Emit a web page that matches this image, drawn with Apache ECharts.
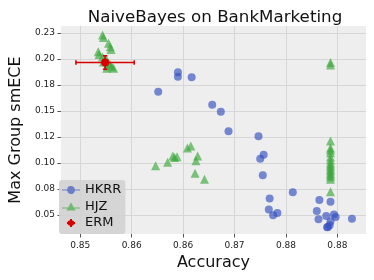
<!DOCTYPE html>
<html>
<head>
<meta charset="utf-8">
<script src="https://cdn.jsdelivr.net/npm/echarts@6/dist/echarts.min.js"></script>
<style>html,body{margin:0;padding:0;background:#fff}#c{width:374px;height:280px}</style>
</head>
<body>
<div id="c"></div>
<script>
// ---- data ----
const xTicks = [0.852, 0.858, 0.864, 0.870, 0.876, 0.882];
const xTickLabels = ['0.85', '0.86', '0.86', '0.87', '0.88', '0.88'];
const yTicks = [0.05, 0.075, 0.10, 0.125, 0.15, 0.175, 0.20, 0.225];
const yTickLabels = ['0.05', '0.08', '0.10', '0.12', '0.15', '0.18', '0.20', '0.23'];

const hkrrX = [0.8634,0.8634,0.8650,0.8611,0.8674,0.8684,0.8693,0.8728,0.8734,0.8730,0.8733,0.8741,0.8768,0.8740,0.8745,0.8750,0.8799,0.8812,0.8796,0.8798,0.8807,0.8816,0.8818,0.8837,0.8808,0.8811,0.8812,0.8809];
const hkrrY = [0.1872,0.1830,0.1824,0.1686,0.1561,0.1493,0.1305,0.1257,0.1080,0.1041,0.0882,0.0659,0.0718,0.0553,0.0498,0.0519,0.0644,0.0628,0.0539,0.0459,0.0490,0.0505,0.0481,0.0464,0.0382,0.0401,0.0438,0.0385];

const hjzX = [0.8546,0.8547,0.8553,0.8555,0.8556,0.8541,0.8542,0.8546,0.8551,0.8553,0.8555,0.8557,0.8559,0.8551,0.8547,
              0.8608,0.8622,0.8628,0.8633,0.8630,0.8645,0.8649,0.8657,0.8655,0.8654,0.8665,
              0.8812,0.8812,0.8812,0.8812,0.8812,0.8812,0.8812,0.8812,0.8812,0.8812,0.8812,0.8812,0.8812,0.8812,0.8812,0.8812,0.8812,0.8812];
const hjzY = [0.2231,0.2207,0.2151,0.2118,0.2091,0.2070,0.2043,0.2019,0.1990,0.1959,0.1942,0.1926,0.1911,0.1911,0.1971,
              0.0974,0.1007,0.1067,0.1061,0.1053,0.1144,0.1164,0.1067,0.1022,0.0901,0.0843,
              0.1966,0.1942,0.1212,0.1144,0.1125,0.1099,0.1058,0.1029,0.1000,0.0981,0.0962,0.0940,0.0923,0.0901,0.0885,0.0868,0.0843,0.0724];

const ermX = [0.8549];
const ermY = [0.1966];
const ermXErr = [0.0034];
const ermYErr = [0.0065];

// ---- chart ----
const zip = (a, b) => a.map((v, i) => [v, b[i]]);
const BLUE = 'rgba(52,80,192,0.82)';
const GREEN = 'rgba(60,168,60,0.82)';
const RED = '#d90000';
const FONT = 'DejaVu Sans';

const chart = echarts.init(document.getElementById('c'), null, {renderer: 'canvas'});
chart.setOption({
  animation: false,
  backgroundColor: '#ffffff',
  textStyle: {fontFamily: FONT},
  title: {
    text: 'NaiveBayes on BankMarketing',
    left: 210, top: 4, textAlign: 'center',
    textStyle: {fontFamily: FONT, fontSize: 16.7, fontWeight: 'normal', color: '#111'}
  },
  grid: {left: 54, right: 8, top: 26, bottom: 46, show: true, backgroundColor: '#eeeeee', borderWidth: 0},
  xAxis: {
    type: 'value', min: 0.84975, max: 0.88534,
    name: 'Accuracy', nameLocation: 'middle', nameGap: 20,
    nameTextStyle: {fontFamily: FONT, fontSize: 16, color: '#111'},
    axisLine: {show: false},
    axisTick: {show: true, length: 3.5, lineStyle: {color: '#555'}, customValues: xTicks},
    axisLabel: {fontFamily: FONT, fontSize: 9, color: '#222', margin: 7, customValues: xTicks,
      formatter: v => { const i = xTicks.findIndex(t => Math.abs(t - v) < 1e-9); return i >= 0 ? xTickLabels[i] : ''; }},
    splitLine: {show: true, lineStyle: {color: '#d6d6d6', width: 1}}
  },
  yAxis: {
    type: 'value', min: 0.031731, max: 0.231731,
    name: 'Max Group smECE', nameLocation: 'middle', nameGap: 24, nameRotate: 90,
    nameTextStyle: {fontFamily: FONT, fontSize: 16, color: '#111'},
    axisLine: {show: false},
    axisTick: {show: true, length: 3.5, lineStyle: {color: '#555'}, customValues: yTicks},
    axisLabel: {fontFamily: FONT, fontSize: 9, color: '#222', margin: 6, customValues: yTicks,
      formatter: v => { const i = yTicks.findIndex(t => Math.abs(t - v) < 1e-9); return i >= 0 ? yTickLabels[i] : ''; }},
    splitLine: {show: true, lineStyle: {color: '#d6d6d6', width: 1}}
  },
  legend: {
    left: 59, top: 180, orient: 'vertical',
    backgroundColor: 'rgba(210,210,210,0.9)', borderRadius: 3,
    padding: [3, 4, 4, 3], itemGap: 2.5, itemWidth: 18, itemHeight: 8,
    textStyle: {fontFamily: FONT, fontSize: 13, color: '#111', lineHeight: 14},
    data: [
      {name: 'HKRR', icon: 'path://M0 3.4 L5.05 3.4 A4 4 0 0 1 12.95 3.4 L18 3.4 L18 4.6 L12.95 4.6 A4 4 0 0 1 5.05 4.6 L0 4.6 Z', itemStyle: {color: BLUE}},
      {name: 'HJZ', icon: 'path://M0 4.9 L6.18 4.9 L9 0 L11.82 4.9 L18 4.9 L18 6.1 L12.51 6.1 L13.6 8 L4.4 8 L5.49 6.1 L0 6.1 Z', itemStyle: {color: GREEN}},
      {name: 'ERM', icon: 'path://M3 0 L5 0 L5 1.2 L6.6 1.9 L7.4 3 L8 3 L8 5 L7.4 5 L6.6 6.1 L5 6.8 L5 8 L3 8 L3 6.8 L1.4 6.1 L0.6 5 L0 5 L0 3 L0.6 3 L1.4 1.9 L3 1.2 Z', itemStyle: {color: RED}}
    ]
  },
  series: [
    {
      name: 'HKRR', type: 'scatter', symbol: 'circle', symbolSize: 8,
      itemStyle: {color: BLUE}, data: zip(hkrrX, hkrrY), z: 3
    },
    {
      name: 'HJZ', type: 'scatter', symbol: 'triangle', symbolSize: 9,
      itemStyle: {color: GREEN}, data: zip(hjzX, hjzY), z: 4
    },
    {
      name: 'ERM', type: 'custom', z: 5,
      itemStyle: {color: RED},
      data: ermX.map((x, i) => [x, ermY[i], ermXErr[i], ermYErr[i]]),
      renderItem: function (params, api) {
        const x = api.value(0), y = api.value(1), ex = api.value(2), ey = api.value(3);
        const c = api.coord([x, y]);
        const l = api.coord([x - ex, y]), r = api.coord([x + ex, y]);
        const t = api.coord([x, y + ey]), b = api.coord([x, y - ey]);
        const ls = {stroke: RED, lineWidth: 1.6};
        const cap = 2.2;
        return {
          type: 'group',
          children: [
            {type: 'line', shape: {x1: l[0], y1: l[1], x2: r[0], y2: r[1]}, style: ls},
            {type: 'line', shape: {x1: l[0], y1: l[1] - cap, x2: l[0], y2: l[1] + cap}, style: ls},
            {type: 'line', shape: {x1: r[0], y1: r[1] - cap, x2: r[0], y2: r[1] + cap}, style: ls},
            {type: 'line', shape: {x1: t[0], y1: t[1], x2: b[0], y2: b[1]}, style: ls},
            {type: 'line', shape: {x1: t[0] - cap, y1: t[1], x2: t[0] + cap, y2: t[1]}, style: ls},
            {type: 'line', shape: {x1: b[0] - cap, y1: b[1], x2: b[0] + cap, y2: b[1]}, style: ls},
            {type: 'circle', shape: {cx: c[0], cy: c[1], r: 4}, style: {fill: RED}}
          ]
        };
      }
    }
  ]
});
</script>
</body>
</html>
